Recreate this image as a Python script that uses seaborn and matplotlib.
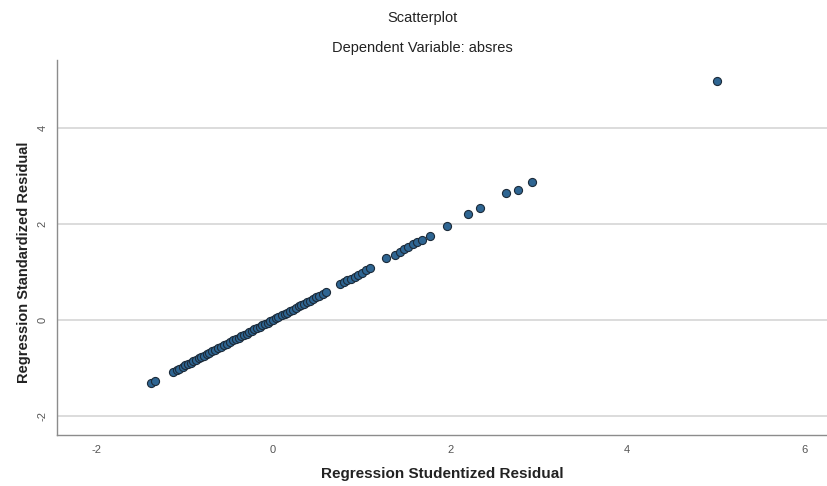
import matplotlib
matplotlib.use("Agg")
import matplotlib.pyplot as plt
import seaborn as sns
import pandas as pd

studentized = [
    -1.38, -1.33,
    -1.13, -1.09, -1.06, -1.02, -0.99, -0.96, -0.93, -0.90, -0.87, -0.84,
    -0.81, -0.78, -0.75, -0.72, -0.69, -0.66, -0.62, -0.59, -0.55, -0.52,
    -0.49, -0.45, -0.42, -0.39, -0.36, -0.33, -0.30, -0.27, -0.24, -0.21,
    -0.18, -0.15, -0.12, -0.09, -0.06, -0.03, 0.00, 0.03, 0.06, 0.10,
    0.13, 0.16, 0.19, 0.22, 0.26, 0.29, 0.32, 0.35, 0.38, 0.42,
    0.45, 0.49, 0.52, 0.56, 0.60,
    0.76, 0.80, 0.84, 0.88, 0.92, 0.96, 1.00, 1.05, 1.10,
    1.28, 1.38, 1.43, 1.48, 1.53, 1.58, 1.63, 1.68, 1.77,
    1.96, 2.20, 2.34, 2.63, 2.77, 2.93, 5.02,
]
standardized = [
    -1.32, -1.27,
    -1.09, -1.05, -1.02, -0.98, -0.95, -0.92, -0.89, -0.86, -0.83, -0.80,
    -0.77, -0.75, -0.72, -0.69, -0.66, -0.63, -0.59, -0.56, -0.53, -0.50,
    -0.47, -0.43, -0.40, -0.37, -0.34, -0.32, -0.29, -0.26, -0.23, -0.20,
    -0.17, -0.14, -0.11, -0.09, -0.06, -0.03, 0.00, 0.03, 0.06, 0.10,
    0.12, 0.15, 0.18, 0.21, 0.25, 0.28, 0.31, 0.34, 0.37, 0.40,
    0.43, 0.47, 0.50, 0.54, 0.58,
    0.74, 0.78, 0.82, 0.86, 0.90, 0.94, 0.98, 1.03, 1.08,
    1.28, 1.36, 1.42, 1.47, 1.52, 1.57, 1.62, 1.67, 1.74,
    1.96, 2.21, 2.33, 2.65, 2.71, 2.87, 4.98,
]
x_ticks = [-2, 0, 2, 4, 6]
y_ticks = [-2, 0, 2, 4]

df = pd.DataFrame({"stud": studentized, "std": standardized})

sns.set_theme(style="white")
plt.rcParams["font.family"] = ["Liberation Sans", "DejaVu Sans"]

fig = plt.figure(figsize=(8.28, 4.86), dpi=100)
ax = fig.add_axes([0.069, 0.105, 0.931, 0.772])

ax.set_xlim(-2.44, 6.27)
ax.set_ylim(-2.40, 5.42)
ax.set_xticks(x_ticks)
ax.set_yticks(y_ticks)
ax.set_xticklabels([str(v) for v in x_ticks])
ax.set_yticklabels([str(v) for v in y_ticks], rotation=90, va="center")
ax.yaxis.grid(True, color="#d9d9d9", linewidth=1.3)
ax.set_axisbelow(True)

sns.scatterplot(data=df, x="stud", y="std", ax=ax, s=34,
                color="#2e6592", edgecolor="#1c2b3a", linewidth=0.8, zorder=3)

for side in ["top", "right"]:
    ax.spines[side].set_visible(False)
for side in ["left", "bottom"]:
    ax.spines[side].set_color("#8c8c8c")
    ax.spines[side].set_linewidth(1.0)

ax.tick_params(axis="both", which="both", length=3, color="#bdbdbd",
               labelsize=8, labelcolor="#555555", pad=4)

ax.set_xlabel("Regression Studentized Residual", fontsize=11, fontweight="bold",
              color="#222222")
ax.set_ylabel("Regression Standardized Residual", fontsize=10.5, fontweight="bold",
              color="#222222")
# label positions in axes coordinates
ax.xaxis.set_label_coords(0.5, -0.085)
ax.yaxis.set_label_coords(-0.034, 0.46)

fig.text(0.51, 0.963, "Scatterplot", ha="center", va="center",
         fontsize=10.5, color="#222222")
fig.text(0.51, 0.902, "Dependent Variable: absres", ha="center", va="center",
         fontsize=10.5, color="#222222")

fig.savefig("out.png", dpi=100)
